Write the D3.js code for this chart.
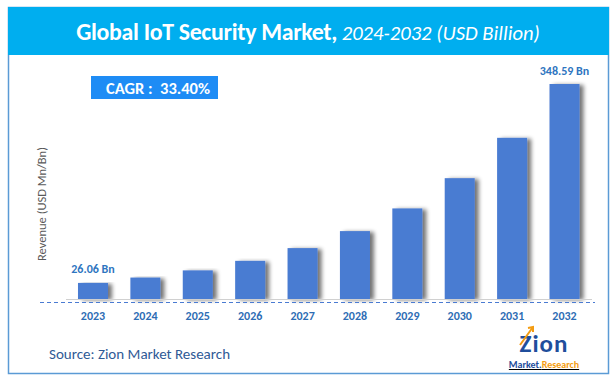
<!DOCTYPE html>
<html><head><meta charset="utf-8">
<script src="https://cdn.jsdelivr.net/npm/d3@7"></script>
<style>body{margin:0;background:#fff}svg{display:block}</style>
</head><body>
<script>
const years = ["2023","2024","2025","2026","2027","2028","2029","2030","2031","2032"];
const values = [26.06, 34.76, 46.37, 61.86, 82.52, 110.08, 146.85, 195.9, 261.33, 348.59];
const firstLabel = "26.06 Bn";
const lastLabel = "348.59 Bn";
const titleBold = "Global IoT Security Market,";
const titleItalic = " 2024-2032 (USD Billion)";
const cagrText = "CAGR :  33.40%";
const yTitle = "Revenue (USD Mn/Bn)";
const sourceText = "Source: Zion Market Research";

const W = 616, H = 383;
const svg = d3.select("body").append("svg").attr("width", W).attr("height", H);
const font = "Calibri, Carlito, 'Open Sans', sans-serif";

const defs = svg.append("defs");
const f = defs.append("filter").attr("id","sh").attr("x","-20%").attr("y","-10%").attr("width","160%").attr("height","130%");
f.append("feGaussianBlur").attr("in","SourceAlpha").attr("stdDeviation",2).attr("result","b");
f.append("feOffset").attr("in","b").attr("dx",4).attr("dy",1).attr("result","o");
f.append("feComponentTransfer").attr("in","o").attr("result","o2").append("feFuncA").attr("type","linear").attr("slope",0.55);
const m = f.append("feMerge"); m.append("feMergeNode").attr("in","o2"); m.append("feMergeNode").attr("in","SourceGraphic");

// outer frame
svg.append("rect").attr("x",8.5).attr("y",7.5).attr("width",600).attr("height",366)
  .attr("fill","#fff").attr("stroke","#5b9bd5").attr("stroke-width",1.5);
svg.append("rect").attr("x",8).attr("y",7).attr("width",601).attr("height",48).attr("fill","#00aeef");

const t = svg.append("text").attr("x",308).attr("y",40).attr("text-anchor","middle")
  .attr("fill","#fff").style("font-family",font);
t.append("tspan").text(titleBold).attr("font-weight","bold").attr("font-size",23.8).attr("letter-spacing",-0.3);
t.append("tspan").text(titleItalic).attr("font-style","italic").attr("font-size",20.6);

// CAGR box
svg.append("rect").attr("x",91).attr("y",76).attr("width",127).attr("height",23).attr("fill","#1e8cf5");
svg.append("text").attr("x",158).attr("y",94).attr("text-anchor","middle").attr("fill","#fff")
  .attr("font-weight","bold").attr("font-size",16.5).style("font-family",font).style("white-space","pre").text(cagrText);

const x = d3.scaleBand().domain(years).range([66.8, 590.7]).paddingInner(0.427).paddingOuter(0.2135);
const y = d3.scaleLinear().domain([0, 348.59]).range([299, 84]);

svg.append("g").selectAll("rect").data(values).join("rect")
  .attr("x",(d,i)=>x(years[i])).attr("y",d=>y(d)).attr("width",x.bandwidth()).attr("height",d=>y(0)-y(d))
  .attr("fill","#4a7bd2").attr("filter","url(#sh)");

// baseline
svg.append("line").attr("x1",66).attr("x2",592).attr("y1",299.5).attr("y2",299.5).attr("stroke","#d0d0d0").attr("stroke-width",1);
svg.append("line").attr("x1",40).attr("x2",595).attr("y1",302.5).attr("y2",302.5).attr("stroke","#4a7bd2")
  .attr("stroke-width",1).attr("stroke-dasharray","4,3");

// x axis
const xAxis = svg.append("g").attr("transform","translate(0,305)").call(d3.axisBottom(x).tickSize(0).tickPadding(6));
xAxis.select(".domain").remove();
xAxis.selectAll("text").attr("fill","#2e6db4").attr("font-weight","bold").attr("font-size",12).style("font-family",font);

// value labels
svg.append("text").attr("x",x(years[0])+x.bandwidth()/2).attr("y",y(values[0])-10).attr("text-anchor","middle")
  .attr("fill","#2e75c0").attr("font-weight","bold").attr("font-size",12).style("font-family",font).text(firstLabel);
svg.append("text").attr("x",x(years[9])+x.bandwidth()/2).attr("y",y(values[9])-9).attr("text-anchor","middle")
  .attr("fill","#2e75c0").attr("font-weight","bold").attr("font-size",12).style("font-family",font).text(lastLabel);

// y title
svg.append("text").attr("transform","translate(46,204) rotate(-90)").attr("text-anchor","middle")
  .attr("fill","#595959").attr("font-size",12.5).style("font-family",font).text(yTitle);

// source
svg.append("text").attr("x",49).attr("y",359).attr("fill","#2f5a96").attr("font-size",15).style("font-family",font).text(sourceText);

// logo
const lg = svg.append("g");
lg.append("text").attr("x",544).attr("y",352).attr("text-anchor","middle").attr("font-weight","bold")
  .attr("font-size",25).attr("fill","#1f4e9c").style("font-family",font).attr("letter-spacing",1).text("Zion");
lg.append("path").attr("d","M520,345 L533,327 M528,328 L533,327 L533,332").attr("stroke","#f39c12").attr("stroke-width",2).attr("fill","none");
lg.append("text").attr("x",544).attr("y",368).attr("text-anchor","middle").attr("font-weight","bold")
  .attr("font-size",10).style("font-family",font).attr("text-decoration","underline")
  .call(s=>{s.append("tspan").attr("fill","#1f4e9c").text("Market.");s.append("tspan").attr("fill","#f39c12").text("Research");});
</script>
</body></html>
